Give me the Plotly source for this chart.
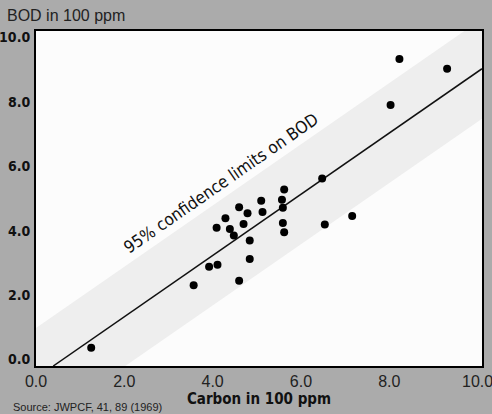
import plotly.graph_objects as go

# Data (Carbon in 100 ppm vs BOD in 100 ppm)
carbon = [1.25, 3.57, 3.92, 4.11, 4.60, 4.84, 4.84, 4.48, 4.39, 4.09, 4.29, 4.70, 4.79, 4.60,
          5.13, 5.10, 5.57, 5.62, 5.59, 5.59, 5.62, 6.48, 6.54, 7.16, 8.03, 8.23, 9.31]
bod = [0.37, 2.31, 2.88, 2.94, 2.45, 3.12, 3.70, 3.85, 4.05, 4.09, 4.39, 4.21, 4.54, 4.73,
       4.58, 4.93, 4.96, 5.28, 4.71, 4.24, 3.95, 5.62, 4.19, 4.46, 7.90, 9.33, 9.03]

# Fitted regression line and 95% band half-width (in BOD units)
fit_slope = 0.9505
fit_intercept = -0.571
band_half = 1.55
line_x = [0.39, 10.1]
band_x = [0.0, 10.1]

x_ticks = [0, 2, 4, 6, 8, 10]
y_ticks = [0, 2, 4, 6, 8, 10]

line_y = [fit_slope * x + fit_intercept for x in line_x]
band_lo = [fit_slope * x + fit_intercept - band_half for x in band_x]
band_hi = [fit_slope * x + fit_intercept + band_half for x in band_x]

cond = "Liberation Sans Narrow, DejaVu Sans Condensed, Liberation Sans"

fig = go.Figure()
fig.add_trace(go.Scatter(x=band_x, y=band_lo, mode="lines", line=dict(width=0),
                         hoverinfo="skip", showlegend=False))
fig.add_trace(go.Scatter(x=band_x, y=band_hi, mode="lines", line=dict(width=0),
                         fill="tonexty", fillcolor="#eeeeee",
                         hoverinfo="skip", showlegend=False))
fig.add_trace(go.Scatter(x=line_x, y=line_y, mode="lines",
                         line=dict(color="#111111", width=1.5), showlegend=False))
fig.add_trace(go.Scatter(x=carbon, y=bod, mode="markers",
                         marker=dict(color="#000000", size=8), showlegend=False,
                         cliponaxis=False))

fig.add_annotation(x=4.19, y=5.48, xref="x", yref="y",
                   text="95% confidence limits on BOD", showarrow=False,
                   textangle=-34.7,
                   font=dict(family="DejaVu Sans Condensed, Liberation Sans", size=17, color="#111111"))

fig.add_annotation(x=0, y=1, xref="paper", yref="paper", xanchor="left", yanchor="bottom",
                   xshift=-31, yshift=5,
                   text="BOD in 100 ppm", showarrow=False,
                   font=dict(family="Liberation Sans", size=16, color="#222222"))
fig.add_annotation(x=0, y=0, xref="paper", yref="paper", xanchor="left", yanchor="top",
                   xshift=-25, yshift=-33,
                   text="Source: JWPCF, 41, 89 (1969)", showarrow=False,
                   font=dict(family="Liberation Sans", size=11, color="#222222"))

fig.update_layout(
    width=492, height=414,
    margin=dict(l=36, r=10, t=31, b=48),
    paper_bgcolor="#ababab",
    plot_bgcolor="#fcfcfc",
    showlegend=False,
)
fig.update_xaxes(range=[0, 10.1], tickvals=x_ticks, tickformat=".1f",
                 showgrid=False, zeroline=False, ticks="", automargin=False,
                 ticklabeloverflow="allow",
                 showline=True, linecolor="#000000", linewidth=2, mirror=True,
                 tickfont=dict(family="Liberation Sans", size=16, color="#222222"),
                 title=dict(text="<b>Carbon in 100 ppm</b>", standoff=0,
                            font=dict(family="DejaVu Sans Condensed, Liberation Sans", size=15, color="#111111")))
fig.update_yaxes(range=[-0.2, 10.2], tickvals=y_ticks, tickformat=".1f",
                 showgrid=False, zeroline=False, ticks="", automargin=False,
                 ticklabeloverflow="allow", ticklabelstandoff=1,
                 showline=True, linecolor="#000000", linewidth=2, mirror=True,
                 tickfont=dict(family=cond, size=14, color="#111111", weight=700))

fig.write_html("out.html", config={"displayModeBar": False},
               post_script="document.body.style.margin='0';document.body.style.background='#ababab';")
